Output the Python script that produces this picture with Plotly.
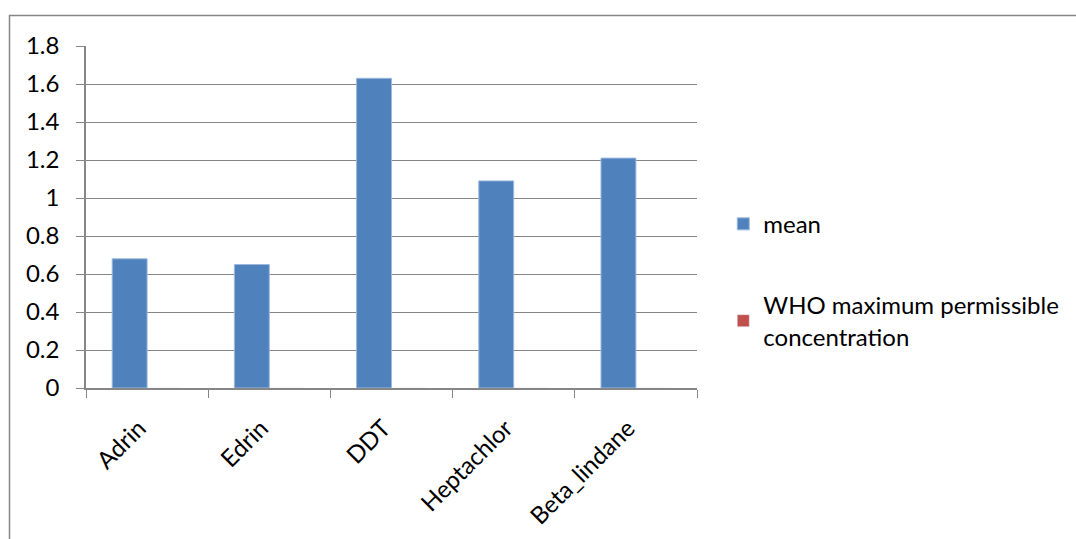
import plotly.graph_objects as go

categories = ["Adrin", "Edrin", "DDT", "Heptachlor", "Beta_lindane"]
mean_values = [0.68, 0.65, 1.63, 1.09, 1.21]
who_values = [0, 0, 0, 0, 0]
y_ticks = [0, 0.2, 0.4, 0.6, 0.8, 1, 1.2, 1.4, 1.6, 1.8]
y_tick_labels = ["0", "0.2", "0.4", "0.6", "0.8", "1", "1.2", "1.4", "1.6", "1.8"]

W, H = 1076, 539
L, R, T, B = 86, 379, 46, 151
FONT = "Lato"
FS = 24

fig = go.Figure()
fig.add_trace(go.Bar(x=categories, y=mean_values, name="mean",
                     marker=dict(color="#4F81BD", line=dict(color="#9DB8DE", width=1)),
                     legendgroup="a"))
fig.add_trace(go.Bar(x=categories, y=who_values, name="WHO maximum permissible<br>concentration",
                     marker=dict(color="#C0504D"), legendgroup="b"))

pw = W - L - R
ph = H - T - B
fig.add_shape(type="rect", xref="paper", yref="paper",
              x0=(9.5 - L) / pw, x1=(W + 20 - L) / pw,
              y0=-(H + 20 - T - ph) / ph, y1=(H - 15.5 - B) / ph,
              line=dict(color="#868686", width=1.5), layer="below")

fig.update_layout(
    width=W, height=H,
    margin=dict(l=L, r=R, t=T, b=B, autoexpand=False),
    paper_bgcolor="white", plot_bgcolor="white",
    barmode="group", bargap=0.4286, bargroupgap=0,
    font=dict(family=FONT, size=FS, color="black"),
    showlegend=True,
    legend=dict(x=1.043, y=0.315, xanchor="left", yanchor="middle",
                traceorder="grouped", tracegroupgap=47,
                font=dict(family=FONT, size=FS), itemwidth=30,
                bgcolor="rgba(0,0,0,0)"),
    xaxis=dict(type="category", showline=True, linecolor="#868686", linewidth=1.5,
               ticks="outside", tickson="boundaries", ticklen=8, tickcolor="#868686",
               tickangle=-45, showgrid=False, tickfont=dict(size=FS), automargin=False,
               ticklabelstandoff=15, ticklabelshift=-8),
    yaxis=dict(range=[0, 1.8], tickvals=y_ticks, ticktext=y_tick_labels,
               showline=True, linecolor="#868686", linewidth=1.5,
               ticks="outside", ticklen=8, tickcolor="#868686",
               showgrid=True, gridcolor="#868686", gridwidth=1,
               zeroline=False, ticklabelstandoff=12, tickfont=dict(size=FS), automargin=False),
)

fig.write_html("out.html")
